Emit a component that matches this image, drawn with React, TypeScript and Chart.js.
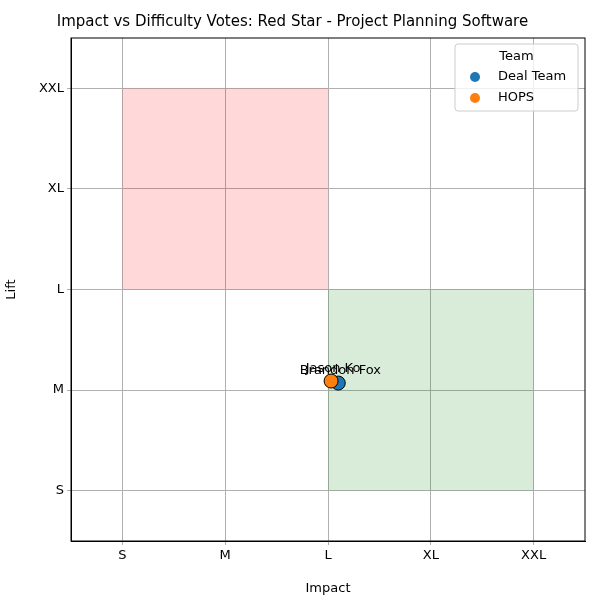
import { useEffect, useRef } from "react";
import Chart from "chart.js/auto";

const sizeLabels = ["S", "M", "L", "XL", "XXL"];
const teams = ["Deal Team", "HOPS"];
const teamColors = ["#1f77b4", "#ff7f0e"];
const voters = [["Brandon Fox"], ["Jason Ko"]];
const impactVotes = [[2.1], [2.03]];
const liftVotes = [[1.07], [1.09]];
// zones: [xMin, xMax, yMin, yMax]
const zones = [
  { box: [0, 2, 2, 4], color: "rgba(255,0,0,0.15)" },
  { box: [2, 4, 0, 2], color: "rgba(0,128,0,0.15)" },
];

const extras = {
  id: "extras",
  beforeDatasetsDraw(chart: any) {
    const { ctx, scales, chartArea } = chart;
    const x = scales.x, y = scales.y;
    ctx.save();
    zones.forEach((z) => {
      const [x0, x1, y0, y1] = z.box;
      ctx.fillStyle = z.color;
      ctx.fillRect(x.getPixelForValue(x0), y.getPixelForValue(y1),
        x.getPixelForValue(x1) - x.getPixelForValue(x0), y.getPixelForValue(y0) - y.getPixelForValue(y1));
    });
    ctx.strokeStyle = "#000";
    ctx.lineWidth = 1;
    ctx.strokeRect(chartArea.left, chartArea.top, chartArea.right - chartArea.left, chartArea.bottom - chartArea.top);
    ctx.restore();
  },
  afterDatasetsDraw(chart: any) {
    const { ctx, scales, chartArea } = chart;
    ctx.save();
    ctx.font = "13px 'DejaVu Sans'";
    ctx.fillStyle = "#000";
    ctx.textAlign = "center";
    ctx.textBaseline = "bottom";
    teams.forEach((_, t) => {
      voters[t].forEach((name, i) => {
        ctx.fillText(name, scales.x.getPixelForValue(impactVotes[t][i]) + 2,
          scales.y.getPixelForValue(liftVotes[t][i]) - 6);
      });
    });
    // legend
    const lx = chartArea.right - 130, ly = chartArea.top + 6, w = 123, h = 67;
    ctx.fillStyle = "rgba(255,255,255,0.8)";
    ctx.strokeStyle = "#ccc";
    ctx.beginPath();
    ctx.roundRect(lx, ly, w, h, 3);
    ctx.fill();
    ctx.stroke();
    ctx.fillStyle = "#000";
    ctx.textBaseline = "middle";
    ctx.fillText("Team", lx + w / 2, ly + 13);
    ctx.textAlign = "left";
    teams.forEach((team, t) => {
      const cy = ly + 33 + t * 21;
      ctx.fillStyle = teamColors[t];
      ctx.beginPath();
      ctx.arc(lx + 20, cy, 5, 0, Math.PI * 2);
      ctx.fill();
      ctx.fillStyle = "#000";
      ctx.fillText(team, lx + 43, cy);
    });
    ctx.restore();
  },
};

export default function App() {
  const ref = useRef<HTMLCanvasElement>(null);
  useEffect(() => {
    document.body.style.margin = "0";
    const ctx = ref.current?.getContext("2d");
    if (!ctx) return;
    const tickFont = { family: "DejaVu Sans", size: 13 };
    const chart = new Chart(ctx, {
      type: "scatter",
      data: {
        datasets: teams.map((team, t) => ({
          label: team,
          data: impactVotes[t].map((v, i) => ({ x: v, y: liftVotes[t][i] })),
          backgroundColor: teamColors[t],
          borderColor: "#000",
          borderWidth: 1,
          pointRadius: 7,
          order: teams.length - t,
        })),
      },
      options: {
        animation: false,
        responsive: false,
        layout: { padding: { right: 15, top: 0 } },
        plugins: {
          legend: { display: false },
          tooltip: { enabled: false },
          title: {
            display: true,
            text: "Impact vs Difficulty Votes: Red Star - Project Planning Software",
            color: "#000",
            font: { family: "DejaVu Sans", size: 15, weight: "normal" },
            padding: { top: 13, bottom: 7 },
          },
        },
        scales: {
          x: {
            type: "linear", min: -0.5, max: 4.5,
            afterBuildTicks: (s: any) => { s.ticks = sizeLabels.map((_, i) => ({ value: i })); },
            afterFit: (s: any) => { s.height = 59; },
            ticks: { callback: (v: any) => sizeLabels[v] ?? "", color: "#000", font: tickFont },
            grid: { color: "#b0b0b0", tickLength: 4 },
            border: { color: "#000" },
            title: { display: true, text: "Impact", color: "#000", font: tickFont },
          },
          y: {
            type: "linear", min: -0.5, max: 4.5,
            afterBuildTicks: (s: any) => { s.ticks = sizeLabels.map((_, i) => ({ value: i })); },
            afterFit: (s: any) => { s.width = 71; },
            ticks: { callback: (v: any) => sizeLabels[v] ?? "", color: "#000", font: tickFont },
            grid: { color: "#b0b0b0", tickLength: 4 },
            border: { color: "#000" },
            title: { display: true, text: "Lift", color: "#000", font: tickFont },
          },
        },
      },
      plugins: [extras],
    });
    return () => chart.destroy();
  }, []);
  return (
    <div style={{ width: 600, height: 600, background: "#fff" }}>
      <canvas ref={ref} width={600} height={600} />
    </div>
  );
}
